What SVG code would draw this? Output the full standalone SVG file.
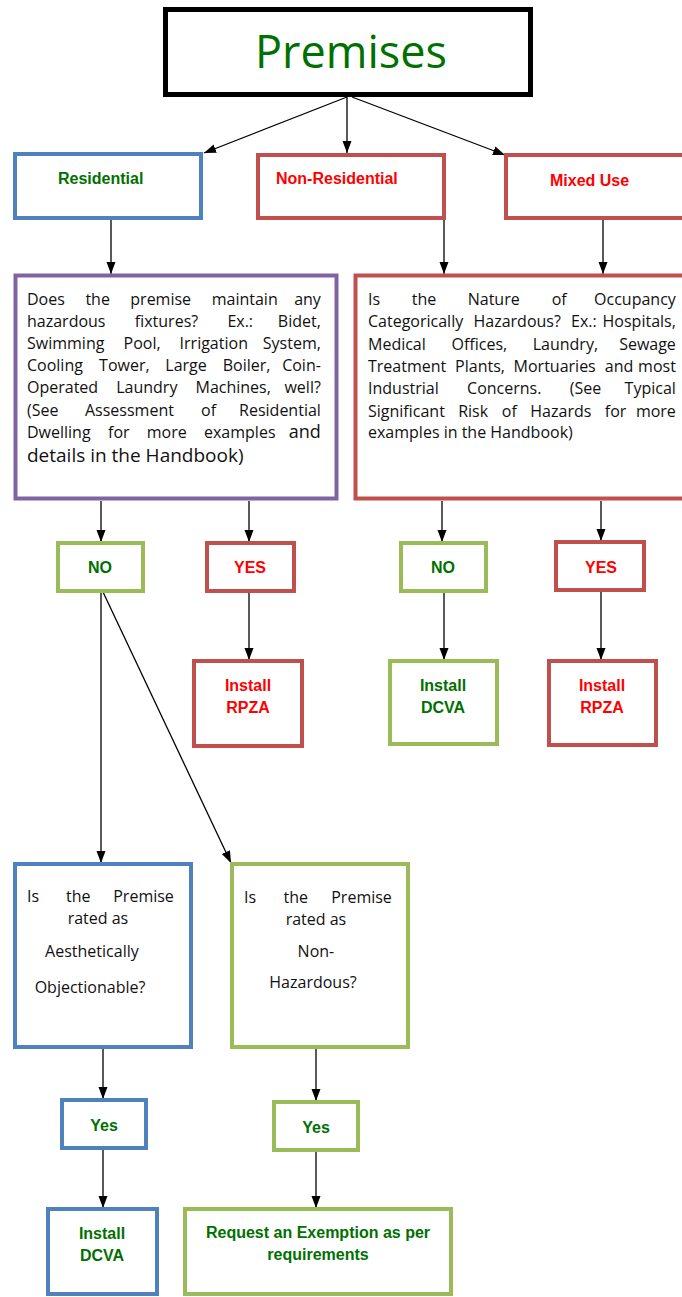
<svg xmlns="http://www.w3.org/2000/svg" width="682" height="1297" viewBox="0 0 682 1297">
<style>
.box{fill:#fff;stroke-width:4}
.blue{stroke:#4F81BD}
.red{stroke:#C0504D}
.green{stroke:#9BBB59}
.purple{stroke:#8064A2}
.lbl{font-family:"Liberation Sans",Arial,sans-serif;font-weight:bold;font-size:16px}
.lg{fill:#007000}
.lr{fill:#FF0000}
.mid{text-anchor:middle}
.body{font-family:"Open Sans","Liberation Sans",sans-serif;font-size:16px;fill:#111}
.q{font-family:"Open Sans","Liberation Sans",sans-serif;font-size:16px;fill:#111}
.e{text-anchor:end}
.conn line{stroke:#000;stroke-width:1.3;marker-end:url(#ah)}
</style>
<defs>
<marker id="ah" markerUnits="userSpaceOnUse" markerWidth="12" markerHeight="12" viewBox="0 0 12 12" refX="12" refY="6" orient="auto">
<path d="M0,1.5 L12,6 L0,10.5 Z" fill="#000"/>
</marker>
</defs>
<rect width="682" height="1297" fill="#fff"/>

<g id="connectors" class="conn">
<line x1="347" y1="97" x2="204" y2="153"/>
<line x1="347" y1="97" x2="347" y2="153"/>
<line x1="352" y1="97" x2="505" y2="155"/>
<line x1="111" y1="220" x2="111" y2="274"/>
<line x1="444" y1="220" x2="444" y2="274"/>
<line x1="603" y1="220" x2="603" y2="274"/>
<line x1="101" y1="501" x2="101" y2="542"/>
<line x1="249" y1="501" x2="249" y2="542"/>
<line x1="442" y1="501" x2="442" y2="542"/>
<line x1="601" y1="501" x2="601" y2="541"/>
<line x1="249" y1="593" x2="249" y2="660"/>
<line x1="444" y1="593" x2="444" y2="660"/>
<line x1="601" y1="592" x2="601" y2="660"/>
<line x1="101" y1="593" x2="101" y2="863"/>
<line x1="103" y1="592" x2="231" y2="863"/>
<line x1="103" y1="1049" x2="103" y2="1099"/>
<line x1="103" y1="1150" x2="103" y2="1208"/>
<line x1="316" y1="1049" x2="316" y2="1101"/>
<line x1="316" y1="1152" x2="316" y2="1208"/>
</g>

<g id="premises">
<rect x="165.5" y="9.5" width="365" height="85" fill="#fff" stroke="#000" stroke-width="5"/>
<text x="351" y="68" text-anchor="middle" font-family="'Open Sans','Liberation Sans',sans-serif" font-size="45" fill="#007000">Premises</text>
</g>

<g id="residential">
<rect class="box blue" x="15" y="154" width="186" height="64"/>
<text class="lbl lg" x="58" y="184">Residential</text>
</g>

<g id="non-residential">
<rect class="box red" x="258" y="155" width="186" height="63"/>
<text class="lbl lr" x="276" y="184">Non-Residential</text>
</g>

<g id="mixed-use">
<rect class="box red" x="506" y="155" width="184" height="63"/>
<text class="lbl lr" x="550" y="186">Mixed Use</text>
</g>

<g id="q-residential">
<rect class="box purple" x="15.5" y="275.5" width="321" height="223" stroke-width="5"/>
<text class="body">
<tspan x="27" y="305">Does</tspan><tspan x="85.4" y="305">the</tspan><tspan x="130.3" y="305">premise</tspan><tspan x="211.7" y="305">maintain</tspan><tspan class="e" x="325" y="305">any</tspan>
<tspan x="27" y="327">hazardous</tspan><tspan x="134.8" y="327">fixtures?</tspan><tspan x="227.4" y="327">Ex.:</tspan><tspan class="e" x="325" y="327">Bidet,</tspan>
<tspan x="27" y="349">Swimming</tspan><tspan x="123.6" y="349">Pool,</tspan><tspan x="179.6" y="349">Irrigation</tspan><tspan class="e" x="325" y="349">System,</tspan>
<tspan x="27" y="371">Cooling</tspan><tspan x="99.1" y="371">Tower,</tspan><tspan x="165.3" y="371">Large</tspan><tspan x="222.7" y="371">Boiler,</tspan><tspan class="e" x="325" y="371">Coin-</tspan>
<tspan x="27" y="393">Operated</tspan><tspan x="116.2" y="393">Laundry</tspan><tspan x="195.5" y="393">Machines,</tspan><tspan class="e" x="325" y="393">well?</tspan>
<tspan x="27" y="416">(See</tspan><tspan x="85" y="416">Assessment</tspan><tspan x="201" y="416">of</tspan><tspan class="e" x="325" y="416">Residential</tspan>
<tspan x="27" y="438">Dwelling</tspan><tspan x="108" y="438">for</tspan><tspan x="146.8" y="438">more</tspan><tspan x="204" y="438">examples</tspan><tspan class="e" x="325" y="438" font-size="18">and</tspan>
<tspan x="27" y="462" font-size="19">details in the Handbook)</tspan>
</text>
</g>

<g id="q-occupancy">
<rect class="box red" x="355.5" y="275.5" width="340" height="223" stroke-width="5"/>
<text class="body">
<tspan x="368" y="305">Is</tspan><tspan x="411.8" y="305">the</tspan><tspan x="467.7" y="305">Nature</tspan><tspan x="551.7" y="305">of</tspan><tspan class="e" x="680" y="305">Occupancy</tspan>
<tspan x="368" y="327">Categorically</tspan><tspan x="473.5" y="327">Hazardous?</tspan><tspan x="571.1" y="327">Ex.:</tspan><tspan class="e" x="680" y="327">Hospitals,</tspan>
<tspan x="368" y="350">Medical</tspan><tspan x="451.5" y="350">Offices,</tspan><tspan x="532.7" y="350">Laundry,</tspan><tspan class="e" x="680" y="350">Sewage</tspan>
<tspan x="368" y="372">Treatment</tspan><tspan x="455.1" y="372">Plants,</tspan><tspan x="513.6" y="372">Mortuaries</tspan><tspan x="604.8" y="372">and</tspan><tspan class="e" x="680" y="372">most</tspan>
<tspan x="368" y="394">Industrial</tspan><tspan x="467.1" y="394">Concerns.</tspan><tspan x="569.7" y="394">(See</tspan><tspan class="e" x="680" y="394">Typical</tspan>
<tspan x="368" y="417">Significant</tspan><tspan x="458.2" y="417">Risk</tspan><tspan x="501.8" y="417">of</tspan><tspan x="530.3" y="417">Hazards</tspan><tspan x="604.8" y="417">for</tspan><tspan class="e" x="680" y="417">more</tspan>
<tspan x="368" y="438">examples in the Handbook)</tspan>
</text>
</g>

<g id="no-left">
<rect class="box green" x="58" y="543" width="85" height="48"/>
<text class="lbl lg mid" x="100" y="573">NO</text>
</g>
<g id="yes-left">
<rect class="box red" x="207" y="543" width="87" height="48"/>
<text class="lbl lr mid" x="250" y="573">YES</text>
</g>
<g id="no-right">
<rect class="box green" x="401" y="543" width="85" height="48"/>
<text class="lbl lg mid" x="443" y="573">NO</text>
</g>
<g id="yes-right">
<rect class="box red" x="556" y="542" width="88" height="48"/>
<text class="lbl lr mid" x="601" y="573">YES</text>
</g>

<g id="install-rpza-left">
<rect class="box red" x="194" y="661" width="108" height="85" stroke-width="5"/>
<text class="lbl lr mid" x="248" y="691" font-size="17"><tspan x="248">Install</tspan><tspan x="248" y="713">RPZA</tspan></text>
</g>
<g id="install-dcva-mid">
<rect class="box green" x="390" y="661" width="107" height="83" stroke-width="5"/>
<text class="lbl lg mid" x="443" y="691" font-size="17"><tspan x="443">Install</tspan><tspan x="443" y="713">DCVA</tspan></text>
</g>
<g id="install-rpza-right">
<rect class="box red" x="549" y="661" width="107" height="84" stroke-width="5"/>
<text class="lbl lr mid" x="602" y="691" font-size="17"><tspan x="602">Install</tspan><tspan x="602" y="713">RPZA</tspan></text>
</g>

<g id="q-aesthetic">
<rect class="box blue" x="15" y="864" width="176" height="183" stroke-width="5"/>
<text class="q">
<tspan x="27" y="902">Is</tspan><tspan x="66" y="902">the</tspan><tspan class="e" x="178" y="902">Premise</tspan>
<tspan x="100" y="924" text-anchor="middle">rated as</tspan>
<tspan x="94" y="957" text-anchor="middle">Aesthetically</tspan>
<tspan x="90" y="993" text-anchor="middle">Objectionable?</tspan>
</text>
</g>
<g id="q-nonhazardous">
<rect class="box green" x="232" y="864" width="176" height="183" stroke-width="5"/>
<text class="q">
<tspan x="244" y="903">Is</tspan><tspan x="283.5" y="903">the</tspan><tspan class="e" x="396" y="903">Premise</tspan>
<tspan x="318" y="925" text-anchor="middle">rated as</tspan>
<tspan x="318" y="957" text-anchor="middle">Non-</tspan>
<tspan x="313" y="988" text-anchor="middle">Hazardous?</tspan>
</text>
</g>

<g id="yes-aesthetic">
<rect class="box blue" x="62" y="1100" width="84" height="48"/>
<text class="lbl lg mid" x="104" y="1131">Yes</text>
</g>
<g id="yes-nonhazardous">
<rect class="box green" x="274" y="1102" width="84" height="48"/>
<text class="lbl lg mid" x="316" y="1133">Yes</text>
</g>

<g id="install-dcva-bottom">
<rect class="box blue" x="48" y="1209" width="109" height="85" stroke-width="5"/>
<text class="lbl lg mid" x="102" y="1239" font-size="17"><tspan x="102">Install</tspan><tspan x="102" y="1261">DCVA</tspan></text>
</g>
<g id="request-exemption">
<rect class="box green" x="185" y="1209" width="266" height="85" stroke-width="5"/>
<text class="lbl lg mid" x="318" y="1238"><tspan x="318">Request an Exemption as per</tspan><tspan x="318" y="1260">requirements</tspan></text>
</g>
</svg>
